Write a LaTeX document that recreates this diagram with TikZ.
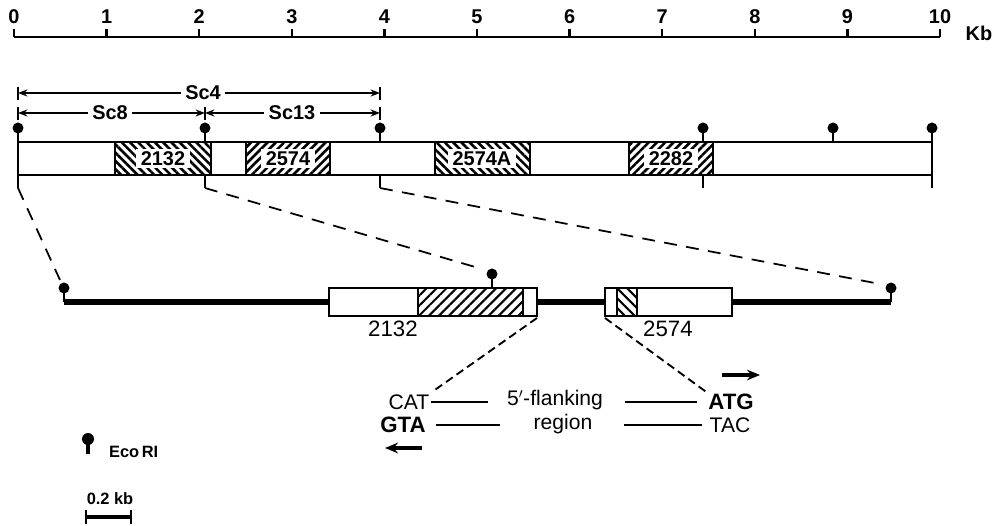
\documentclass[tikz,border=0pt]{standalone}
\usepackage{fontspec}
\setmainfont{Liberation Sans}
\usetikzlibrary{arrows.meta,patterns.meta}

\begin{document}
\begin{tikzpicture}[x=0.3mm, y=-0.3mm, line width=2pt, >={Stealth[length=8pt,width=6pt]},
  pin/.pic={\draw[line width=2.2pt] (0,0) -- (0,-12); \fill (0,-14) circle (5.5);},
  hatchup/.style={pattern={Lines[angle=45,distance=5pt,line width=2.2pt]}},
  hatchdown/.style={pattern={Lines[angle=-45,distance=5pt,line width=2.2pt]}},
  blocklabel/.style={fill=white, inner xsep=4pt, inner ysep=2pt, font=\bfseries\fontsize{17}{17}\selectfont},
  sclabel/.style={fill=white, inner xsep=4pt, inner ysep=1pt, font=\bfseries\fontsize{17}{17}\selectfont},
  zoomline/.style={line width=1.5pt, dash pattern=on 11pt off 8pt},
  zoomshort/.style={line width=1.6pt, dash pattern=on 7pt off 4pt},
  seq/.style={font=\fontsize{18}{18}\selectfont, inner sep=1pt},
  seqbold/.style={font=\bfseries\fontsize{19}{19}\selectfont, inner sep=1pt},
  rule/.style={line width=1.5pt}]
  \useasboundingbox (0,0) rectangle (997,526);

  % draw ruler in kb
  \draw (14,37) -- (940,37);
  \foreach \k in {0,...,10} {
    \draw (14+92.6*\k,37) -- (14+92.6*\k,29);
    \node[font=\bfseries\fontsize{17}{17}\selectfont] (kb\k) at (14+92.6*\k,17) {\k};
  }
  \node[font=\bfseries\fontsize{17}{17}\selectfont] (kbunit) at (979,33) {Kb};

  % draw subclones
  \draw[line width=1.5pt] (18,87) -- (18,100) (380,87) -- (380,100);
  \draw[line width=1.5pt] (18,107) -- (18,120) (205,107) -- (205,120) (380,107) -- (380,120);
  \draw[<->, line width=1.5pt] (18,93) -- (380,93);
  \draw[<->, line width=1.5pt] (18,113) -- (205,113);
  \draw[<->, line width=1.5pt] (205,113) -- (380,113);
  \node[sclabel] (sc4) at (203,93) {Sc4};
  \node[sclabel] (sc8) at (110,113) {Sc8};
  \node[sclabel] (sc13) at (292,113) {Sc13};

  % draw 10 kb map with transcripts
  \fill[hatchdown] (115,142) rectangle (211,175);
  \fill[hatchup] (246,142) rectangle (330,175);
  \fill[hatchdown] (435,142) rectangle (530,175);
  \fill[hatchup] (629,142) rectangle (713,175);
  \node[blocklabel] (t2132) at (163,158.5) {2132};
  \node[blocklabel] (t2574) at (288,158.5) {2574};
  \node[blocklabel] (t2574a) at (482,158.5) {2574A};
  \node[blocklabel] (t2282) at (671,158.5) {2282};
  \draw[line width=2.2pt] (18,142) rectangle (932,175);
  \foreach \x in {115,211,246,330,435,530,629,713}
    \draw (\x,142) -- (\x,175);

  % EcoRI sites
  \foreach \x in {18,205,380,703,833,932}
    \pic at (\x,142) {pin};
  \foreach \x in {18,205,380,703,932}
    \draw (\x,175) -- (\x,188);
  \coordinate (e0) at (18,188);
  \coordinate (e1) at (205,188);
  \coordinate (e2) at (380,188);

  % draw expanded region
  \draw[line width=5pt] (64,302) -- (329,302);
  \draw[line width=5pt] (537,302) -- (605,302);
  \draw[line width=5pt] (732,302) -- (891,302);
  \fill[white] (329,288) rectangle (537,316);
  \fill[pattern={Lines[angle=45,distance=6pt,line width=1.8pt]}] (418,288) rectangle (523,316);
  \draw (329,288) rectangle (537,316);
  \draw (418,288) -- (418,316) (523,288) -- (523,316);
  \fill[white] (605,288) rectangle (732,316);
  \fill[pattern={Lines[angle=-45,distance=6pt,line width=1.8pt]}] (617,288) rectangle (637,316);
  \draw (605,288) rectangle (732,316);
  \draw (617,288) -- (617,316) (637,288) -- (637,316);
  \node[font=\fontsize{19}{19}\selectfont] (g2132) at (393,329) {2132};
  \node[font=\fontsize{19}{19}\selectfont] (g2574) at (668,329) {2574};
  \pic at (64,302) {pin};
  \pic at (492,288) {pin};
  \pic at (891,302) {pin};
  \coordinate (s0) at (60,280);
  \coordinate (s1) at (482,269);
  \coordinate (s2) at (880,284);
  \coordinate (b2132) at (537,318);
  \coordinate (b2574) at (605,318);

  % zoom lines
  \draw[zoomline] (e0) -- (s0);
  \draw[zoomline] (e1) -- (s1);
  \draw[zoomline] (e2) -- (s2);

  % 5'-flanking region
  \node[seq] (cat) at (409,402) {CAT};
  \node[seq] (flank) at (555,400) {5$'$-flanking};
  \node[seqbold] (atg) at (731,402) {ATG};
  \node[seqbold] (gta) at (403,425) {GTA};
  \node[seq] (region) at (563,424) {region};
  \node[seq] (tac) at (730,425) {TAC};
  \draw[rule] (431,402) -- (488,402);
  \draw[rule] (625,402) -- (697,402);
  \draw[rule] (436,425) -- (500,425);
  \draw[rule] (624,425) -- (702,425);
  \draw[zoomshort] (b2132) -- (cat.north east);
  \draw[zoomshort] (b2574) -- (atg.north west);
  \draw[-{Stealth[length=11pt,width=9pt]}, line width=3.5pt] (722,375) -- (760,375);
  \draw[-{Stealth[length=11pt,width=9pt]}, line width=3.5pt] (422,448) -- (385,448);

  % legend
  \draw[line width=3pt] (88,440) -- (88,454);
  \fill (88,439) circle (6);
  \node[font=\bfseries\fontsize{14}{14}\selectfont, anchor=west] (ecori) at (104,452) {Eco\,RI};
  \node[font=\bfseries\fontsize{14}{14}\selectfont] (scalelab) at (110,499) {0.2 kb};
  \draw[line width=3.5pt] (86,517) -- (131,517);
  \draw[line width=2pt] (86,510) -- (86,524) (131,510) -- (131,524);
\end{tikzpicture}
\end{document}
